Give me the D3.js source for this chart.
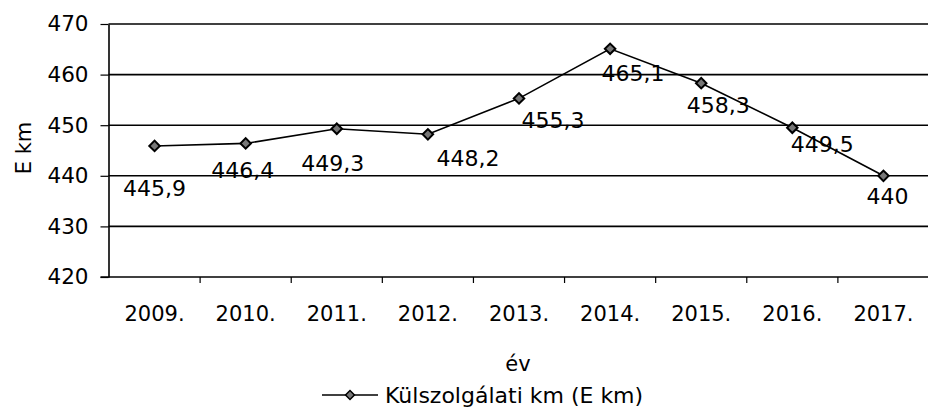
<!DOCTYPE html>
<html>
<head>
<meta charset="utf-8">
<script src="https://cdn.jsdelivr.net/npm/d3@7"></script>
<style>
  body { margin: 0; background: #fff; }
  svg { display: block; font-family: 'DejaVu Sans', Verdana, sans-serif; }
</style>
</head>
<body>
<script>
// Data
const YEARS = ['2009.', '2010.', '2011.', '2012.', '2013.', '2014.', '2015.', '2016.', '2017.']
const KM = [445.9, 446.4, 449.3, 448.2, 455.3, 465.1, 458.3, 449.5, 440]
const LABELS = ['445,9', '446,4', '449,3', '448,2', '455,3', '465,1', '458,3', '449,5', '440']
const Y_TICKS = [420, 430, 440, 450, 460, 470]
const SERIES = 'Külszolgálati km (E km)'

// Label offsets from each point (manual placement as in the original)
const LABEL_DX = [0, -3, -4, 40, 34, 23, 17, 30, 4]
const LABEL_DY = [50, 35, 42, 32, 30, 32, 30, 24, 28]

const width = 928
const height = 410
const plotLeft = 108.5
const plotRight = 929
const plotTop = 24
const plotBottom = 277

const svg = d3.select('body').append('svg')
  .attr('width', width)
  .attr('height', height)

const x = d3.scaleBand()
  .domain(YEARS)
  .range([plotLeft + 0.5, plotRight])

const y = d3.scaleLinear()
  .domain([420, 470])
  .range([plotBottom, plotTop])

// Gridlines
svg.append('g')
  .selectAll('line')
  .data(Y_TICKS.slice(1))
  .enter()
  .append('line')
  .attr('x1', plotLeft)
  .attr('x2', width)
  .attr('y1', d => y(d))
  .attr('y2', d => y(d))
  .style('stroke', '#000')
  .style('stroke-width', 1.6)

// Y axis
const yAxis = svg.append('g')
  .attr('transform', `translate(${plotLeft},0)`)
  .call(d3.axisLeft(y).tickValues(Y_TICKS).tickSize(8).tickSizeOuter(0).tickPadding(12))
  .attr('font-family', null)
  .attr('font-size', null)
yAxis.select('.domain').style('stroke', '#000').style('stroke-width', 1.6)
yAxis.selectAll('.tick line').style('stroke', '#000').style('stroke-width', 1.2)
yAxis.selectAll('text')
  .style('font-size', '21.5px')
  .style('fill', '#000')

// X axis
const xAxis = svg.append('g')
  .attr('transform', `translate(0,${plotBottom})`)
  .call(d3.axisBottom(x).tickSize(0).tickPadding(29))
  .attr('font-family', null)
  .attr('font-size', null)
xAxis.select('.domain').remove()
xAxis.selectAll('text')
  .style('font-size', '21px')
  .style('fill', '#000')

svg.append('line')
  .attr('x1', plotLeft - 8)
  .attr('x2', width)
  .attr('y1', plotBottom)
  .attr('y2', plotBottom)
  .style('stroke', '#000')
  .style('stroke-width', 1.6)

// Ticks between categories
svg.append('g')
  .selectAll('line')
  .data(YEARS.slice(1))
  .enter()
  .append('line')
  .attr('x1', d => x(d))
  .attr('x2', d => x(d))
  .attr('y1', plotBottom)
  .attr('y2', plotBottom + 6)
  .style('stroke', '#000')
  .style('stroke-width', 1.2)

// Series line
const cx = (_, i) => x(YEARS[i]) + x.bandwidth() / 2
const line = d3.line()
  .x(cx)
  .y(d => y(d))

svg.append('path')
  .datum(KM)
  .attr('d', line)
  .attr('fill', 'none')
  .style('stroke', '#000')
  .style('stroke-width', 1.6)

// Diamond markers
const diamond = d3.symbol().type(d3.symbolSquare).size(55)
svg.append('g')
  .selectAll('path')
  .data(KM)
  .enter()
  .append('path')
  .attr('d', diamond)
  .attr('transform', (d, i) => `translate(${cx(d, i)},${y(d)}) rotate(45)`)
  .style('fill', '#777')
  .style('stroke', '#000')
  .style('stroke-width', 2)

// Data labels
svg.append('g')
  .selectAll('text')
  .data(KM)
  .enter()
  .append('text')
  .attr('x', (d, i) => cx(d, i) + LABEL_DX[i])
  .attr('y', (d, i) => y(d) + LABEL_DY[i])
  .attr('text-anchor', 'middle')
  .style('font-size', '22px')
  .text((_, i) => LABELS[i])

// Axis titles
svg.append('text')
  .attr('transform', 'translate(31,148) rotate(-90)')
  .attr('text-anchor', 'middle')
  .style('font-size', '21px')
  .text('E km')

svg.append('text')
  .attr('x', 518)
  .attr('y', 371)
  .attr('text-anchor', 'middle')
  .style('font-size', '21px')
  .text('év')

// Legend
const legend = svg.append('g')
  .attr('transform', 'translate(322,395)')
legend.append('line')
  .attr('x1', 0)
  .attr('x2', 56)
  .style('stroke', '#000')
  .style('stroke-width', 1.6)
legend.append('path')
  .attr('d', d3.symbol().type(d3.symbolSquare).size(40))
  .attr('transform', 'translate(28,0) rotate(45)')
  .style('fill', '#777')
  .style('stroke', '#000')
  .style('stroke-width', 1.5)
legend.append('text')
  .attr('x', 63)
  .attr('y', 8)
  .style('font-size', '22px')
  .text(SERIES)
</script>
</body>
</html>
